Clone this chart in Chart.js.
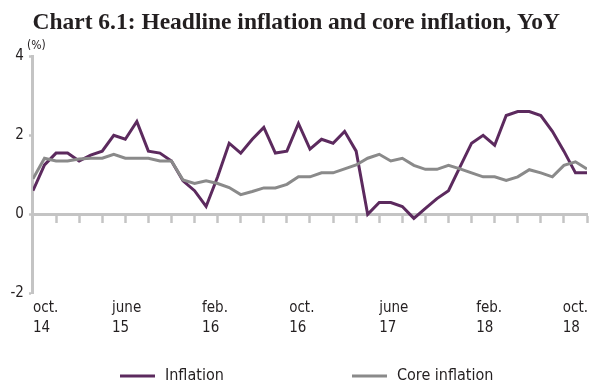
<!DOCTYPE html>
<html>
<head>
<meta charset="utf-8">
<script src="https://cdn.jsdelivr.net/npm/chart.js@4.4.1/dist/chart.umd.min.js"></script>
<style>
  html, body { margin: 0; padding: 0; background: #ffffff; }
  #wrap { width: 589px; height: 384px; position: relative; }
</style>
</head>
<body>
<div id="wrap"><canvas id="chart" width="589" height="384"></canvas></div>
<script>
// Monthly observations, October 2014 to October 2018
const months = [
  '2014-10','2014-11','2014-12',
  '2015-01','2015-02','2015-03','2015-04','2015-05','2015-06','2015-07','2015-08','2015-09','2015-10','2015-11','2015-12',
  '2016-01','2016-02','2016-03','2016-04','2016-05','2016-06','2016-07','2016-08','2016-09','2016-10','2016-11','2016-12',
  '2017-01','2017-02','2017-03','2017-04','2017-05','2017-06','2017-07','2017-08','2017-09','2017-10','2017-11','2017-12',
  '2018-01','2018-02','2018-03','2018-04','2018-05','2018-06','2018-07','2018-08','2018-09','2018-10'
];

// Headline inflation, YoY (%)
const inflation = [
  0.6, 1.25, 1.55,
  1.55, 1.35, 1.5, 1.6, 2.0, 1.9, 2.35, 1.6, 1.55, 1.35, 0.85, 0.6,
  0.2, 0.95, 1.8, 1.55, 1.9, 2.2, 1.55, 1.6, 2.3, 1.65, 1.9, 1.8,
  2.1, 1.6, 0.0, 0.3, 0.3, 0.2, -0.1, 0.15, 0.4, 0.6, 1.2, 1.8,
  2.0, 1.75, 2.5, 2.6, 2.6, 2.5, 2.1, 1.6, 1.05, 1.05
];

// Core inflation, YoY (%)
const coreInflation = [
  0.9, 1.42, 1.35,
  1.35, 1.4, 1.42, 1.42, 1.52, 1.42, 1.42, 1.42, 1.35, 1.35, 0.87, 0.78,
  0.85, 0.78, 0.68, 0.5, 0.58, 0.67, 0.67, 0.76, 0.95, 0.95, 1.05, 1.05,
  1.15, 1.25, 1.42, 1.52, 1.35, 1.42, 1.24, 1.14, 1.14, 1.24, 1.15, 1.05,
  0.95, 0.95, 0.86, 0.95, 1.13, 1.05, 0.95, 1.24, 1.33, 1.15
];

const seriesNames = ['Inflation', 'Core inflation'];
const yTickValues = [-2, 0, 2, 4];
const xTickLabels = [
  ['oct.', '14'], ['june', '15'], ['feb.', '16'], ['oct.', '16'],
  ['june', '17'], ['feb.', '18'], ['oct.', '18']
];

// Month index at which each date label starts (labels are left-aligned)
const labelAnchors = [0, 6.85, 14.65, 22.2, 30, 38.4, 45.9];

const PURPLE = '#5c2a5e';
const GREY = '#8a8a8a';
const AXIS = '#c4c4c4';
const TEXT = '#231f20';
const SANS = '"Liberation Sans Narrow", "Arial Narrow", "DejaVu Sans Condensed", "Roboto", sans-serif';

const lastIndex = months.length - 1;
const toPoints = arr => arr.map((v, i) => ({ x: i, y: v }));

// "(%)" unit marker above the value axis
const unitLabel = {
  id: 'unitLabel',
  afterDraw(chart) {
    const { ctx, chartArea } = chart;
    ctx.save();
    ctx.font = '12px ' + SANS;
    ctx.fillStyle = TEXT;
    ctx.textAlign = 'left';
    ctx.textBaseline = 'alphabetic';
    ctx.fillText('(%)', chartArea.left - 6, chartArea.top - 7);
    ctx.restore();
  }
};

// Single-row legend with wide spacing between the two entries
const wideLegend = {
  id: 'wideLegend',
  afterDraw(chart) {
    const { ctx } = chart;
    const starts = [120, 352];
    const y = 376;
    ctx.save();
    ctx.font = '16px ' + SANS;
    ctx.textBaseline = 'middle';
    ctx.textAlign = 'left';
    chart.data.datasets.forEach((ds, i) => {
      const x = starts[i];
      ctx.strokeStyle = ds.borderColor;
      ctx.lineWidth = 3;
      ctx.beginPath();
      ctx.moveTo(x, y);
      ctx.lineTo(x + 35, y);
      ctx.stroke();
      ctx.fillStyle = TEXT;
      ctx.fillText(ds.label, x + 45, y);
    });
    ctx.restore();
  }
};

new Chart(document.getElementById('chart'), {
  type: 'line',
  data: {
    datasets: [
      {
        label: seriesNames[0],
        data: toPoints(inflation),
        borderColor: PURPLE,
        backgroundColor: PURPLE,
        borderWidth: 3,
        pointRadius: 0,
        tension: 0,
        order: 1
      },
      {
        label: seriesNames[1],
        data: toPoints(coreInflation),
        borderColor: GREY,
        backgroundColor: GREY,
        borderWidth: 3,
        pointRadius: 0,
        tension: 0,
        order: 0
      }
    ]
  },
  options: {
    responsive: false,
    animation: false,
    devicePixelRatio: 1,
    layout: { padding: { left: 5.5, right: 2, top: 0, bottom: 42 } },
    plugins: {
      legend: { display: false },
      tooltip: { enabled: false },
      title: {
        display: true,
        text: 'Chart 6.1: Headline inflation and core inflation, YoY',
        color: TEXT,
        font: { family: '"Liberation Serif", "DejaVu Serif", serif', size: 23.5, weight: 'bold', lineHeight: 1.2 },
        padding: { top: 9, bottom: 19 }
      }
    },
    scales: {
      // zero line with a tick mark every two months
      x: {
        type: 'linear',
        position: { y: 0 },
        min: 0,
        max: lastIndex,
        ticks: { stepSize: 2, display: false },
        grid: { drawOnChartArea: false, drawTicks: true, tickLength: 7, tickWidth: 2.5, tickColor: AXIS },
        border: { display: true, color: AXIS, width: 3 }
      },
      // date labels along the bottom
      xLabels: {
        type: 'linear',
        axis: 'x',
        position: 'bottom',
        min: 0,
        max: lastIndex,
        afterBuildTicks: scale => { scale.ticks = labelAnchors.map(v => ({ value: v })); },
        afterFit: scale => { scale.paddingLeft = 0; scale.paddingRight = 0; },
        ticks: {
          autoSkip: false,
          maxRotation: 0,
          align: 'start',
          padding: 4,
          color: TEXT,
          font: { family: SANS, size: 15, lineHeight: 1.35 },
          callback: (value, index) => xTickLabels[index]
        },
        grid: { display: false, drawTicks: false },
        border: { display: false }
      },
      y: {
        type: 'linear',
        position: 'left',
        min: -2,
        max: 4,
        afterBuildTicks: scale => { scale.ticks = yTickValues.map(v => ({ value: v })); },
        ticks: {
          padding: 5,
          color: TEXT,
          font: { family: SANS, size: 15 },
          callback: v => String(v)
        },
        grid: { drawOnChartArea: false, drawTicks: true, tickLength: 4, tickWidth: 2.5, tickColor: AXIS },
        border: { display: true, color: AXIS, width: 3 }
      }
    }
  },
  plugins: [unitLabel, wideLegend]
});
</script>
</body>
</html>
